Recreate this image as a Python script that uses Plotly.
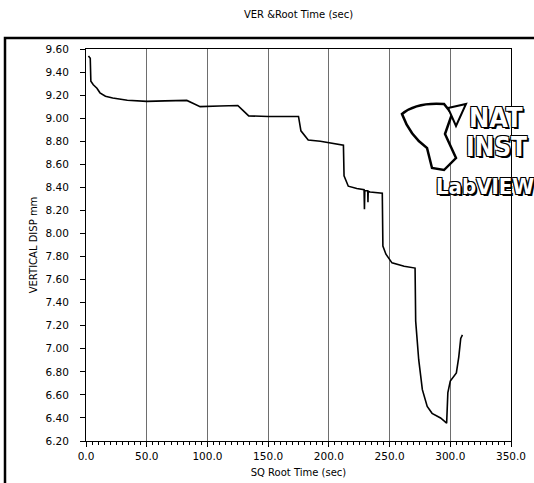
import plotly.graph_objects as go

# Data
sq_root_time = [2.0, 3.5, 4.0, 6.0, 9.0, 11.5, 16.0, 22.0, 34.0, 50.0, 65.0, 83.0, 88.0, 94.0,
                110.0, 125.0, 129.0, 134.0, 150.0, 175.0, 177.0, 183.0, 193.0, 201.0, 212.0,
                212.5, 216.0, 223.0, 229.0, 229.3, 229.6, 232.0, 232.2, 232.4, 234.0, 244.0,
                244.5, 247.0, 252.0, 262.0, 271.0, 271.5, 274.0, 277.0, 281.0, 285.0, 292.0,
                297.0, 298.0, 300.0, 305.0, 307.0, 308.6, 310.0]
vertical_disp = [9.54, 9.52, 9.32, 9.29, 9.26, 9.22, 9.19, 9.175, 9.155, 9.146, 9.15, 9.154, 9.13, 9.10,
                 9.105, 9.11, 9.07, 9.02, 9.015, 9.015, 8.89, 8.81, 8.80, 8.785, 8.765,
                 8.50, 8.41, 8.39, 8.38, 8.21, 8.37, 8.37, 8.27, 8.365, 8.36, 8.35,
                 7.89, 7.82, 7.745, 7.715, 7.70, 7.24, 6.905, 6.645, 6.50, 6.44, 6.40,
                 6.355, 6.62, 6.72, 6.79, 6.93, 7.09, 7.12]

x_ticks = [0, 50, 100, 150, 200, 250, 300, 350]
y_ticks = [6.2, 6.4, 6.6, 6.8, 7.0, 7.2, 7.4, 7.6, 7.8, 8.0, 8.2, 8.4, 8.6, 8.8, 9.0, 9.2, 9.4, 9.6]

FONT = "DejaVu Sans"
W, H = 534, 483
L, R, T, B = 86, 23, 49, 42
PW, PH = W - L - R, H - T - B

fig = go.Figure()
fig.add_trace(go.Scatter(x=sq_root_time, y=vertical_disp, mode="lines",
                         line=dict(color="black", width=1.6), showlegend=False,
                         hoverinfo="skip"))

fig.update_layout(
    width=W, height=H,
    margin=dict(l=L, r=R, t=T, b=B, autoexpand=False),
    paper_bgcolor="white", plot_bgcolor="white",
    font=dict(family=FONT, size=10, color="black"),
    title=dict(text="VER &Root Time (sec)", x=0.5, xref="paper", xanchor="center",
               y=1 - 14 / H, yanchor="middle", font=dict(family=FONT, size=10, color="black")),
    xaxis=dict(range=[0, 350], tickvals=x_ticks, tickformat=".1f",
               showline=True, linecolor="black", linewidth=1, mirror=True,
               showgrid=True, gridcolor="#6e6e6e", gridwidth=1,
               ticks="outside", ticklen=5, tickcolor="black",
               minor=dict(ticks="outside", dtick=5, ticklen=3, tickcolor="black", showgrid=False),
               zeroline=False, automargin=False,
               title=dict(text="SQ Root Time (sec)", standoff=8, font=dict(family=FONT, size=10)),
               tickfont=dict(family=FONT, size=10.5)),
    yaxis=dict(range=[6.2, 9.6], tickvals=y_ticks, tickformat=".2f",
               showline=True, linecolor="black", linewidth=1, mirror=True,
               showgrid=False, zeroline=False, automargin=False,
               ticks="outside", ticklen=5, tickcolor="black", ticklabelstandoff=9,
               title=dict(text="VERTICAL DISP mm", standoff=6, font=dict(family=FONT, size=10)),
               tickfont=dict(family=FONT, size=10.5)),
)

def px_x(px):
    return (px - L) / PW

def px_y(py):
    return (H - B - py) / PH

# outer panel frame (extends beyond the visible window on right and bottom)
fig.add_shape(type="rect", xref="paper", yref="paper",
              x0=px_x(5), x1=px_x(W + 10), y0=px_y(H + 10), y1=px_y(38),
              line=dict(color="black", width=2.5), fillcolor="rgba(0,0,0,0)", layer="below")

# LabVIEW logo (approximation)
outline = "-1px -1px 0 #000, 1px -1px 0 #000, -1px 1px 0 #000, 1px 1px 0 #000, 2px 2px 0 #000"
logo = [("NAT", 467, 118, 27), ("INST", 464, 147, 26), ("LabVIEW", 434, 186, 22)]
for txt, px, py, sz in logo:
    fig.add_annotation(text="<b>" + txt + "</b>", xref="paper", yref="paper",
                       x=px_x(px), y=px_y(py), xanchor="left", yanchor="middle",
                       showarrow=False,
                       font=dict(family="DejaVu Sans Condensed", size=sz, color="white",
                                 shadow=outline))

# emblem of the logo (approximation)
def P(px, py):
    return f"{px_x(px):.4f},{px_y(py):.4f}"

fish = ("M " + P(402, 114) + " Q " + P(416, 102) + " " + P(444, 104) +
        " L " + P(452, 114) + " L " + P(445, 134) + " L " + P(456, 158) +
        " L " + P(444, 170) + " L " + P(432, 168) + " L " + P(427, 148) +
        " Q " + P(410, 136) + " " + P(402, 114) + " Z")
fig.add_shape(type="path", path=fish, xref="paper", yref="paper",
              line=dict(color="black", width=2.5), fillcolor="white", layer="above")
fig.add_shape(type="path",
              path="M " + P(448, 108) + " L " + P(466, 104) + " L " + P(456, 126) + " Z",
              xref="paper", yref="paper", line=dict(color="black", width=2), fillcolor="white",
              layer="above")

fig.write_html("out.html", config={"displayModeBar": False},
               post_script="document.body.style.margin='0';")
